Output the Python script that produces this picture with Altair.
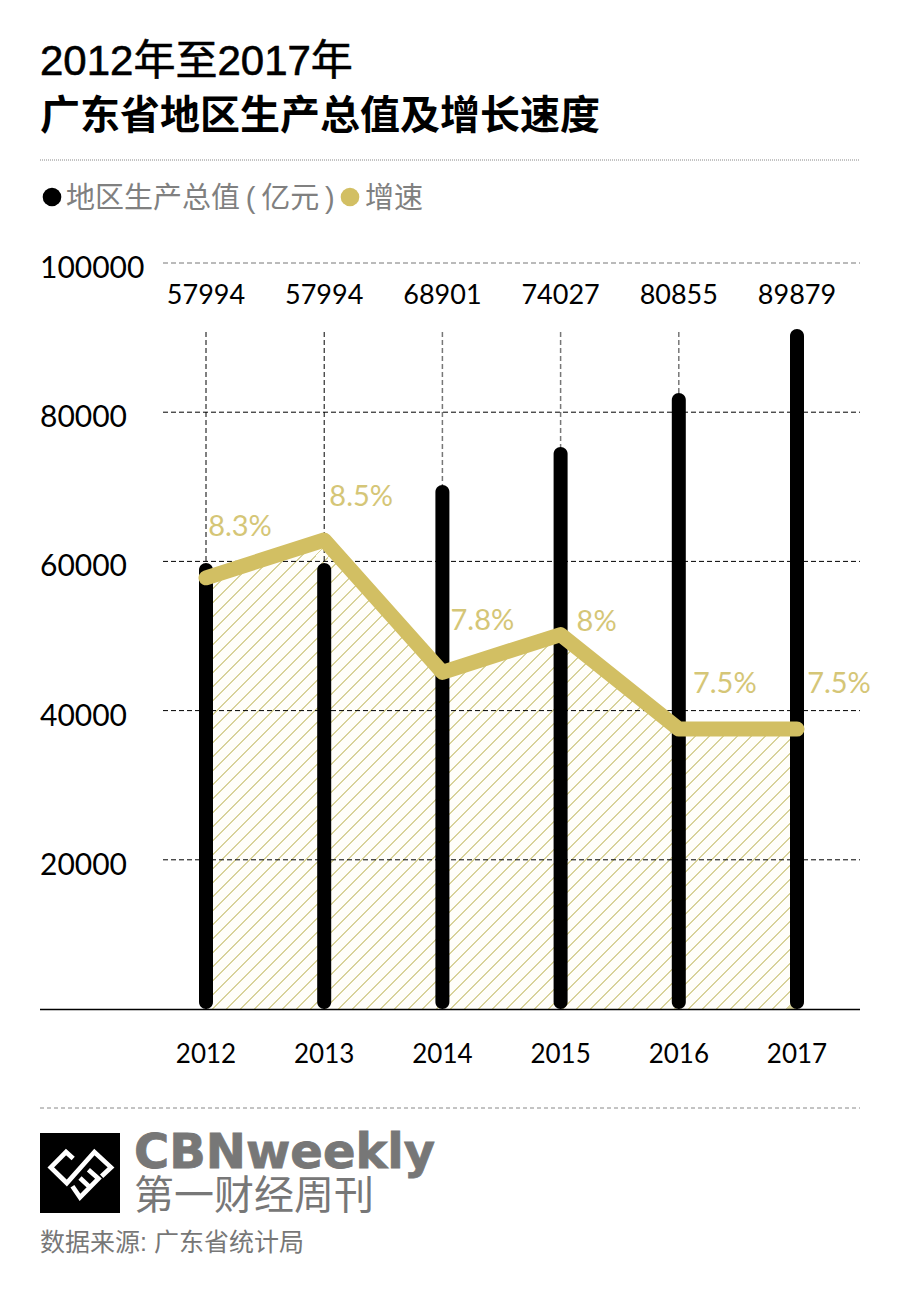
import altair as alt
import pandas as pd

years = [2012, 2013, 2014, 2015, 2016, 2017]
gdp_labels = ["57994", "57994", "68901", "74027", "80855", "89879"]
bar_tops = [59790, 59790, 70240, 75340, 82570, 91150]
growth = [8.3, 8.5, 7.8, 8.0, 7.5, 7.5]
growth_labels = ["8.3%", "8.5%", "7.8%", "8%", "7.5%", "7.5%"]
y_ticks = [100000, 80000, 60000, 40000, 20000]

GOLD = "#d2bf63"
GOLD_TEXT = "#d5c677"
HATCH = "#d8d29a"
GREY = "#777777"
CJK = "Liberation Sans, Noto Sans CJK SC"
NUM = "Lato, Noto Sans"

df = pd.DataFrame({
    "year": years,
    "gdp_label": gdp_labels,
    "top": bar_tops,
    "base": [0] * 6,
    "guide_top": [91000] * 6,
    "growth": growth,
    "floor": [6.02] * 6,
    "growth_label": growth_labels,
})
ticks = pd.DataFrame({"v": y_ticks})

# page pixels minus the 8px margin
x_enc = alt.X("year:Q", axis=None, scale=alt.Scale(domain=[2012, 2017], range=[198, 789], padding=0))
y_scale = alt.Scale(domain=[0, 100000], range=[1001, 255])
rate_scale = alt.Scale(domain=[6.02, 8.5], range=[1001, 532])
dummy = pd.DataFrame({"a": [0]})


def note(txt, x, y, size, color="#000000", weight=400, font=CJK, thicken=0):
    return alt.Chart(dummy).mark_text(
        text=txt, align="left", baseline="middle", fontSize=size, color=color,
        fontWeight=weight, font=font, stroke=color, strokeWidth=thicken).encode(
        x=alt.value(x - 8), y=alt.value(y - 8))


def hline(x1, x2, y, color, dash, width=1):
    return alt.Chart(dummy).mark_rule(color=color, strokeDash=dash, strokeWidth=width).encode(
        x=alt.value(x1 - 8), x2=alt.value(x2 - 8), y=alt.value(y - 8))


# hatching as a hard-stop gradient, offset = (px + py) / (w + h) of the area's box
period = 14.0 / 1060
line_w = 1.9 / 1060
stops = []
o = 0.0
while o + period < 1:
    stops += [
        alt.GradientStop(offset=o, color="#fffefa"),
        alt.GradientStop(offset=o + period - line_w, color="#fffefa"),
        alt.GradientStop(offset=o + period - line_w, color=HATCH),
        alt.GradientStop(offset=o + period, color=HATCH),
    ]
    o += period
hatch = alt.Gradient(gradient="linear", stops=stops, x1=0, y1=0, x2=1.1006, y2=0.8733)

base = alt.Chart(df)

grid = alt.Chart(ticks).transform_filter("datum.v < 100000").mark_rule(
    color="#000000", strokeDash=[5, 3], strokeWidth=1).encode(
    x=alt.value(155), x2=alt.value(852), y=alt.Y("v:Q", axis=None, scale=y_scale))
grid_top = alt.Chart(ticks).transform_filter("datum.v == 100000").mark_rule(
    color=GREY, strokeDash=[5, 3], strokeWidth=1).encode(
    x=alt.value(155), x2=alt.value(852), y=alt.Y("v:Q", axis=None, scale=y_scale))
tick_text = alt.Chart(ticks).mark_text(
    align="left", baseline="middle", dy=6, fontSize=30, font=NUM, color="#000000").encode(
    x=alt.value(32), y=alt.Y("v:Q", axis=None, scale=y_scale), text=alt.Text("v:Q", format="d"))

guides_dark = base.transform_filter("datum.year <= 2013").mark_rule(
    color="#000000", strokeDash=[5, 3], strokeWidth=1).encode(
    x=x_enc,
    y=alt.Y("base:Q", axis=None, scale=y_scale),
    y2="guide_top:Q")
guides_grey = base.transform_filter("datum.year > 2013").mark_rule(
    color=GREY, strokeDash=[5, 3], strokeWidth=1.5).encode(
    x=x_enc,
    y=alt.Y("base:Q", axis=None, scale=y_scale),
    y2="guide_top:Q")

area = base.mark_area(fill=hatch).encode(
    x=x_enc, y=alt.Y("growth:Q", axis=None, scale=rate_scale), y2="floor:Q")

bars = base.mark_bar(color="#000000", width=14, cornerRadius=7).encode(
    x=x_enc, y=alt.Y("top:Q", axis=None, scale=y_scale), y2="base:Q")

line = base.mark_line(color=GOLD, strokeWidth=15, strokeCap="round", strokeJoin="round").encode(
    x=x_enc, y=alt.Y("growth:Q", axis=None, scale=rate_scale))

gdp_text = base.mark_text(fontSize=27, font=NUM, color="#000000", baseline="middle").encode(
    x=x_enc, y=alt.value(288), text="gdp_label:N")
year_text = base.mark_text(fontSize=26, font=NUM, color="#000000", baseline="middle").encode(
    x=x_enc, y=alt.value(1047), text="year:N")

label_offsets = [(34, -51), (37, -43), (40, -51), (36, -13), (46, -45), (42, -45)]
growth_text = [
    base.transform_filter(f"datum.year == {yr}").mark_text(
        fontSize=29, font=NUM, color=GOLD_TEXT, baseline="middle", dx=dx, dy=dy).encode(
        x=x_enc, y=alt.Y("growth:Q", axis=None, scale=rate_scale), text="growth_label:N")
    for yr, (dx, dy) in zip(years, label_offsets)
]

axis_line = hline(40, 860, 1009.5, "#000000", [1, 0], 1.5)

legend_black = alt.Chart(dummy).mark_point(filled=True, size=346, color="#000000", opacity=1).encode(
    x=alt.value(44), y=alt.value(189))
legend_gold = alt.Chart(dummy).mark_point(filled=True, size=346, color=GOLD, opacity=1).encode(
    x=alt.value(342), y=alt.value(189))

logo_box = alt.Chart(dummy).mark_rect(color="#000000").encode(
    x=alt.value(32), x2=alt.value(112), y=alt.value(1125), y2=alt.value(1205))
logo_path = (
    "M-0.17,-0.36 L-0.35,-0.525 L-0.73,-0.14 L-0.33,0.25 L0.36,-0.525 L0.775,-0.14 L0.54,0.083 "
    "M-0.19,0.33 L0,0.61 L0.46,0.14 L0.21,-0.08 "
    "M0.25,0.36 L0,0.125"
)
logo_mark = alt.Chart(dummy).mark_point(
    shape=logo_path, size=6400, filled=False, color="#ffffff", strokeWidth=4.7, opacity=1).encode(
    x=alt.value(72), y=alt.value(1165))

chart = alt.layer(
    hline(40, 860, 160, "#888888", [1, 1]),
    note("2012年至2017年", 40, 62, 42, thicken=0.6),
    note("广东省地区生产总值及增长速度", 40, 117, 40, weight=700),
    legend_black,
    note("地区生产总值\u2009(\u2009亿元\u2009)", 66, 199, 29, "#808080"),
    legend_gold,
    note("增速", 365, 199, 29, "#808080"),
    area, grid_top, grid, guides_grey, guides_dark, tick_text, gdp_text, bars, line,
    *growth_text,
    axis_line, year_text,
    hline(40, 860, 1108, "#888888", [4, 3]),
    logo_box, logo_mark,
    note("CBNweekly", 134, 1154, 48, GREY, 700, "DejaVu Sans", thicken=0.8),
    note("第一财经周刊", 134, 1197, 40, GREY),
    note("数据来源: 广东省统计局", 40, 1243, 25, GREY),
).resolve_scale(y="independent").properties(
    width=884, height=1270, padding=0, autosize=alt.AutoSizeParams(type="none"), background="#ffffff"
).configure_view(stroke=None)

chart.save("out.html", embed_options={"renderer": "svg", "actions": False})
